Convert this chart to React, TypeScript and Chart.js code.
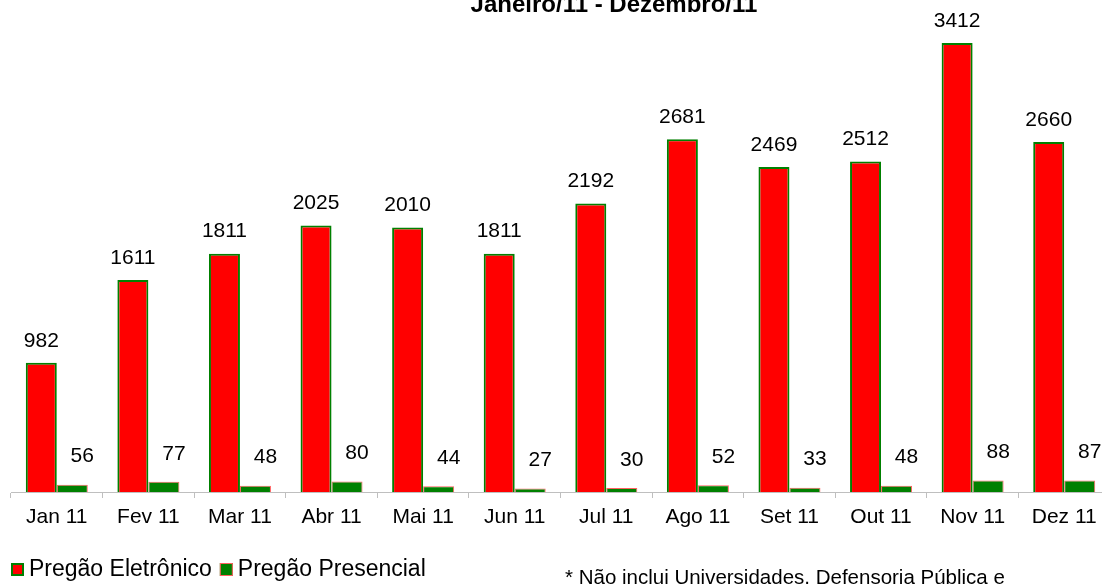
import React, { useEffect, useRef } from "react";
import { Chart, registerables } from "chart.js";

Chart.register(...registerables);

const categories = ["Jan 11", "Fev 11", "Mar 11", "Abr 11", "Mai 11", "Jun 11", "Jul 11", "Ago 11", "Set 11", "Out 11", "Nov 11", "Dez 11"];
const eletronico = [982, 1611, 1811, 2025, 2010, 1811, 2192, 2681, 2469, 2512, 3412, 2660];
const presencial = [56, 77, 48, 80, 44, 27, 30, 52, 33, 48, 88, 87];
const seriesNames = ["Pregão Eletrônico", "Pregão Presencial"];
const titleText = "Janeiro/11 - Dezembro/11";
const footnoteText = "* Não inclui Universidades, Defensoria Pública e";

const RED = "#ff0000";
const GREEN = "#008000";
const FONT = "Liberation Sans, Arial, sans-serif";

const overlay = {
  id: "overlay",
  afterDatasetsDraw(chart: any) {
    const ctx = chart.ctx;
    ctx.save();
    ctx.fillStyle = "#000";
    ctx.textAlign = "center";
    ctx.textBaseline = "middle";
    ctx.font = `21px ${FONT}`;
    chart.data.datasets.forEach((ds: any, di: number) => {
      const meta = chart.getDatasetMeta(di);
      meta.data.forEach((bar: any, i: number) => {
        const v = ds.data[i];
        if (di === 0) ctx.fillText(String(v), bar.x, bar.y - 22);
        else ctx.fillText(String(v), bar.x + 10, bar.y - 28);
      });
    });
    // title
    ctx.font = `bold 24px ${FONT}`;
    ctx.textBaseline = "alphabetic";
    ctx.fillText(titleText, 614, 12);
    // legend
    ctx.textAlign = "left";
    ctx.font = `23px ${FONT}`;
    ctx.textBaseline = "middle";
    const ly = 570;
    ctx.fillStyle = RED;
    ctx.fillRect(11, 563, 13, 13);
    ctx.strokeStyle = GREEN;
    ctx.lineWidth = 2;
    ctx.strokeRect(12, 564, 11, 11);
    ctx.fillStyle = "#000";
    ctx.fillText(seriesNames[0], 29, ly);
    const w1 = ctx.measureText(seriesNames[0]).width;
    const x2 = 29 + w1 + 8;
    ctx.fillStyle = GREEN;
    ctx.fillRect(x2, 563, 13, 13);
    ctx.strokeStyle = "#ff6060";
    ctx.lineWidth = 1;
    ctx.strokeRect(x2 + 0.5, 563.5, 12, 12);
    ctx.fillStyle = "#000";
    ctx.fillText(seriesNames[1], x2 + 18, ly);
    // footnote
    ctx.font = `20.5px ${FONT}`;
    ctx.fillText(footnoteText, 565, 578);
    ctx.restore();
  },
};

export default function App() {
  const ref = useRef<HTMLCanvasElement | null>(null);
  useEffect(() => {
    if (!ref.current) return;
    const chart = new Chart(ref.current, {
      type: "bar",
      data: {
        labels: categories,
        datasets: [
          {
            label: seriesNames[0],
            data: eletronico,
            backgroundColor: RED,
            borderColor: GREEN,
            borderWidth: 2,
            categoryPercentage: 0.677,
            barPercentage: 1,
          },
          {
            label: seriesNames[1],
            data: presencial,
            backgroundColor: GREEN,
            borderColor: "#ff6060",
            borderWidth: 1,
            categoryPercentage: 0.677,
            barPercentage: 1,
          },
        ],
      },
      options: {
        animation: false,
        responsive: false,
        maintainAspectRatio: false,
        layout: { padding: { left: 11, right: 10, top: 40, bottom: 0 } },
        plugins: { legend: { display: false }, title: { display: false }, tooltip: { enabled: false } },
        scales: {
          y: { display: false, min: 0, max: 3435 },
          x: {
            offset: true,
            grid: { display: true, drawOnChartArea: false, drawTicks: true, tickLength: 6, color: "#bfbfbf", offset: true },
            border: { display: true, color: "#bfbfbf", width: 1 },
            ticks: { color: "#000", font: { family: FONT, size: 21 }, padding: 7, maxRotation: 0, autoSkip: false },
            afterFit: (s: any) => { s.height = 92; },
          },
        },
      },
      plugins: [overlay],
    });
    return () => chart.destroy();
  }, []);
  return (
    <div style={{ position: "fixed", left: 0, top: 0, width: 1102, height: 584, overflow: "hidden", background: "#fff" }}>
      <canvas ref={ref} width={1120} height={584} style={{ display: "block", width: 1120, height: 584 }} />
    </div>
  );
}
